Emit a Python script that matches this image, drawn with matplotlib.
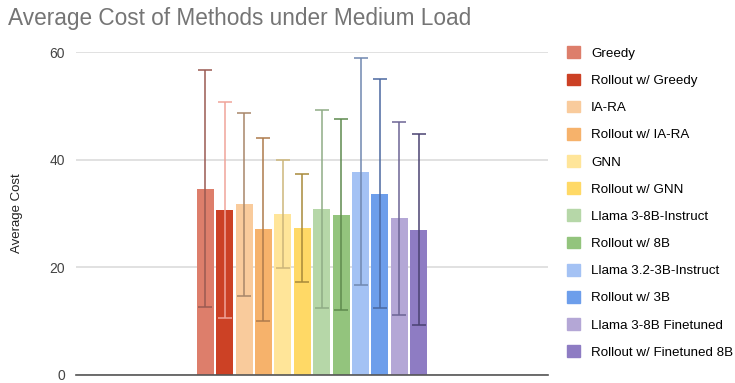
import numpy as np
import matplotlib.pyplot as plt
from matplotlib.patches import Patch

plt.rcParams['font.family'] = ['Liberation Sans', 'DejaVu Sans']

# data
methods = ["Greedy", "Rollout w/ Greedy", "IA-RA", "Rollout w/ IA-RA", "GNN",
           "Rollout w/ GNN", "Llama 3-8B-Instruct", "Rollout w/ 8B",
           "Llama 3.2-3B-Instruct", "Rollout w/ 3B", "Llama 3-8B Finetuned",
           "Rollout w/ Finetuned 8B"]
mean_cost = [34.6, 30.7, 31.7, 27.1, 29.9, 27.3, 30.8, 29.8, 37.8, 33.7, 29.1, 27.0]
std_cost = [22.0, 20.1, 17.0, 17.0, 10.0, 10.0, 18.4, 17.7, 21.1, 21.2, 17.9, 17.7]

bar_colors = ["#dd7e6b", "#cc4125", "#f9cb9c", "#f6b26b", "#ffe599", "#ffd966",
              "#b6d7a8", "#93c47d", "#a4c2f4", "#6d9eeb", "#b4a7d6", "#8e7cc3"]
err_colors = ["#9a5a52", "#f0a49a", "#a8866a", "#ad7a4c", "#cdb67a", "#a88a3a",
              "#90ac86", "#5e8a4e", "#7088b0", "#4b68a0", "#6c6494", "#4a4272"]

fig = plt.figure(figsize=(7.35, 3.83), dpi=100)
ax = fig.add_axes([0.1034, 0.0209, 0.6422, 0.8433])

x = np.arange(len(methods))
ax.bar(x, mean_cost, width=0.88, color=bar_colors, zorder=2)
for i in range(len(methods)):
    ax.errorbar(x[i], mean_cost[i], yerr=std_cost[i], fmt='none',
                ecolor=err_colors[i], elinewidth=1.1, capsize=5, capthick=1.1,
                zorder=3, clip_on=False)

ax.set_xlim(5.5 - 12.16, 5.5 + 12.16)
ax.set_ylim(0, 60)
ax.set_yticks([0, 20, 40, 60])
ax.set_xticks([])
ax.yaxis.grid(True, color="#dcdcdc", linewidth=1.2, zorder=0)
ax.set_axisbelow(True)
for s in ["top", "right", "left"]:
    ax.spines[s].set_visible(False)
ax.spines["bottom"].set_color("#555555")
ax.spines["bottom"].set_linewidth(1.2)
ax.tick_params(axis='y', length=0, pad=8, labelsize=10, labelcolor="#444444")
ax.set_ylabel("Average Cost", fontsize=9.5, color="#222222", labelpad=19)

fig.text(0.011, 0.952, "Average Cost of Methods under Medium Load",
         fontsize=16.3, color="#757575", va="center", ha="left")

handles = [Patch(facecolor=c, edgecolor=c) for c in bar_colors]
fig.legend(handles, methods, loc="upper left", bbox_to_anchor=(0.772, 0.879),
           frameon=False, fontsize=9.6, labelspacing=1.03, handlelength=0.98,
           handleheight=0.98, handletextpad=0.78, borderpad=0, borderaxespad=0)

fig.savefig("out.png", dpi=100)
